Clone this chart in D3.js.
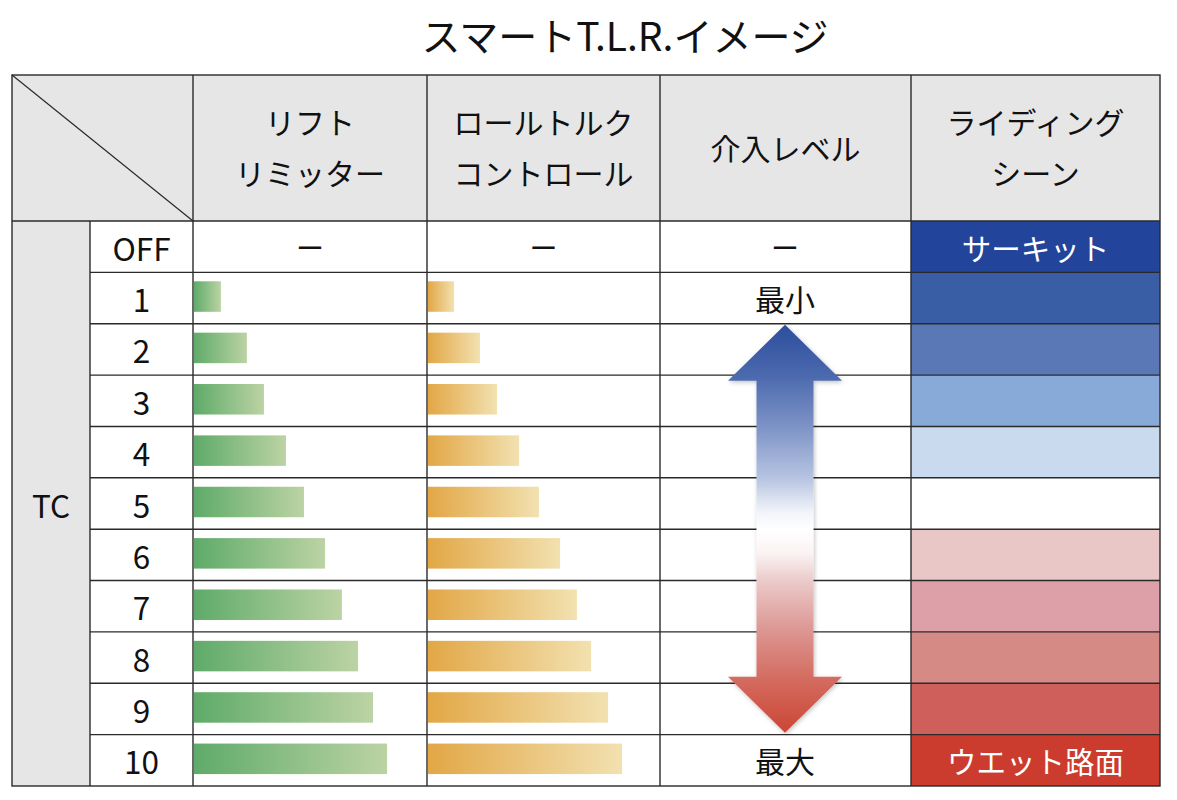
<!DOCTYPE html>
<html><head><meta charset="utf-8">
<script src="https://cdn.jsdelivr.net/npm/d3@7/dist/d3.min.js"></script>
<style>
html,body{margin:0;padding:0;background:#fff;}
svg{display:block;font-family:"Noto Sans CJK JP","Noto Sans",sans-serif;}
</style></head>
<body>
<svg id="chart" width="1177" height="800"></svg>
<script>
// ---- data ----
const title = "スマートT.L.R.イメージ";
const headers = [["リフト","リミッター"],["ロールトルク","コントロール"],["介入レベル"],["ライディング","シーン"]];
const groupLabel = "TC";
const levels = ["OFF","1","2","3","4","5","6","7","8","9","10"];
// bar lengths as % of the cell width (null = not available, shown as "ー")
const liftLimiter = [null, 11.5, 22.6, 29.9, 39.3, 47.0, 56.0, 63.2, 70.1, 76.5, 82.5];
const rollTorque  = [null, 11.2, 22.3, 29.6, 39.1, 47.6, 56.7, 63.9, 70.0, 77.3, 83.3];
const interventionLabels = ["ー","最小","","","","","","","","","最大"];
const sceneColors = ["#22449a","#3a5ea6","#5a78b6","#87aad8","#c9daee","#ffffff","#e9c7c7","#dda0a9","#d68a86","#cf5f5a","#cb3c2f"];
const sceneLabels = ["サーキット","","","","","","","","","","ウエット路面"];

(function(){
// ---- layout ----
const svg = d3.select("#chart");
const colEdges = [12, 90, 193, 427, 660, 911, 1160];
const headTop = 75, bodyTop = 221, bodyBottom = 786;
const y = d3.scaleBand().domain(levels).range([bodyTop, bodyBottom]).padding(0);
const rh = y.bandwidth();
const lineCol = "#2a2a2a";

const defs = svg.append("defs");
function hGrad(id, c1, c2){
  const g = defs.append("linearGradient").attr("id", id).attr("x1","0").attr("x2","1").attr("y1","0").attr("y2","0");
  g.append("stop").attr("offset","0").attr("stop-color", c1);
  g.append("stop").attr("offset","1").attr("stop-color", c2);
}
hGrad("gGreen", "#5fab69", "#bcd3a4");
hGrad("gOrange", "#e2a746", "#f2e1b0");

// title
svg.append("text").attr("x", 625).attr("y", 34).attr("text-anchor","middle")
  .attr("dominant-baseline","central").attr("font-size", 39).attr("fill","#111").text(title);

// header background
svg.append("rect").attr("x", colEdges[0]).attr("y", headTop)
  .attr("width", colEdges[6]-colEdges[0]).attr("height", bodyTop-headTop).attr("fill","#e6e6e6");
// TC column background
svg.append("rect").attr("x", colEdges[0]).attr("y", bodyTop)
  .attr("width", colEdges[1]-colEdges[0]).attr("height", bodyBottom-bodyTop).attr("fill","#e6e6e6");

// scene cells
svg.append("g").selectAll("rect").data(levels).join("rect")
  .attr("x", colEdges[5]).attr("y", d => y(d))
  .attr("width", colEdges[6]-colEdges[5]).attr("height", rh)
  .attr("fill", (d,i) => sceneColors[i]);
svg.append("g").selectAll("text").data(levels).join("text")
  .attr("x", (colEdges[5]+colEdges[6])/2).attr("y", d => y(d)+rh/2)
  .attr("text-anchor","middle").attr("dominant-baseline","central")
  .attr("font-size", 29.5).attr("fill","#fff")
  .text((d,i) => sceneLabels[i]);

// bars
const barH = 30.5;
function bars(values, c0, c1, grad){
  const x = d3.scaleLinear().domain([0,100]).range([0, c1-c0]);
  svg.append("g").selectAll("rect").data(levels.filter((d,i)=>values[i]!=null)).join("rect")
    .attr("x", c0+1).attr("y", d => y(d)+rh/2-barH/2-1.5)
    .attr("width", d => x(values[levels.indexOf(d)]))
    .attr("height", barH).attr("fill", `url(#${grad})`);
  svg.append("g").selectAll("text").data(levels.filter((d,i)=>values[i]==null)).join("text")
    .attr("x", (c0+c1)/2).attr("y", d => y(d)+rh/2)
    .attr("text-anchor","middle").attr("dominant-baseline","central")
    .attr("font-size", 28).attr("fill","#111").text("ー");
}
bars(liftLimiter, colEdges[2], colEdges[3], "gGreen");
bars(rollTorque, colEdges[3], colEdges[4], "gOrange");

// intervention arrow
const ag = defs.append("linearGradient").attr("id","gArrow").attr("x1","0").attr("x2","0").attr("y1","0").attr("y2","1");
[[0,"#2c4d9d"],[0.12,"#4a68ad"],[0.25,"#7d93c7"],[0.38,"#b9c6e2"],[0.46,"#f2f4fa"],[0.5,"#ffffff"],[0.56,"#fbf3f3"],[0.63,"#ebc9c9"],[0.74,"#dd9a96"],[0.86,"#d46e63"],[1,"#cc4634"]]
  .forEach(s => ag.append("stop").attr("offset", s[0]).attr("stop-color", s[1]));
const shadow = defs.append("filter").attr("id","shadow").attr("x","-20%").attr("y","-10%").attr("width","140%").attr("height","120%");
shadow.append("feDropShadow").attr("dx",1).attr("dy",1.5).attr("stdDeviation",2).attr("flood-color","#000").attr("flood-opacity",0.25);

const cx = (colEdges[4]+colEdges[5])/2 - 0.5;
const aTop = y("2") + 1, aBot = y("10") - 2;
const headH = 56, headW = 57, shaftW = 28.5;
const p = d3.path();
p.moveTo(cx, aTop);
p.lineTo(cx+headW, aTop+headH);
p.lineTo(cx+shaftW, aTop+headH);
p.lineTo(cx+shaftW, aBot-headH);
p.lineTo(cx+headW, aBot-headH);
p.lineTo(cx, aBot);
p.lineTo(cx-headW, aBot-headH);
p.lineTo(cx-shaftW, aBot-headH);
p.lineTo(cx-shaftW, aTop+headH);
p.lineTo(cx-headW, aTop+headH);
p.closePath();

// grid lines (drawn before arrow so the arrow sits on top)
const grid = svg.append("g").attr("stroke", lineCol).attr("stroke-width", 1.4).attr("fill","none");
grid.append("rect").attr("x", colEdges[0]).attr("y", headTop)
  .attr("width", colEdges[6]-colEdges[0]).attr("height", bodyBottom-headTop);
[2,3,4,5].forEach(i => grid.append("line").attr("x1", colEdges[i]).attr("x2", colEdges[i]).attr("y1", headTop).attr("y2", bodyBottom));
grid.append("line").attr("x1", colEdges[1]).attr("x2", colEdges[1]).attr("y1", bodyTop).attr("y2", bodyBottom);
grid.append("line").attr("x1", colEdges[0]).attr("x2", colEdges[6]).attr("y1", bodyTop).attr("y2", bodyTop);
levels.slice(1).forEach(l => grid.append("line").attr("x1", colEdges[1]).attr("x2", colEdges[6]).attr("y1", y(l)).attr("y2", y(l)));
grid.append("line").attr("x1", colEdges[0]).attr("y1", headTop).attr("x2", colEdges[2]).attr("y2", bodyTop).attr("stroke-width",1.2);

svg.append("path").attr("d", p.toString()).attr("fill","url(#gArrow)").attr("filter","url(#shadow)");

// intervention labels
svg.append("g").selectAll("text").data(levels).join("text")
  .attr("x", cx).attr("y", d => y(d)+rh/2)
  .attr("text-anchor","middle").attr("dominant-baseline","central")
  .attr("font-size", (d,i) => i===0 ? 28 : 30).attr("fill","#111")
  .text((d,i) => interventionLabels[i]);

// header texts
const hg = svg.append("g");
headers.forEach((lines, i) => {
  const c = (colEdges[i+2]+colEdges[i+3])/2;
  const mid = (headTop+bodyTop)/2;
  lines.forEach((t, j) => {
    const off = lines.length === 1 ? 0 : (j === 0 ? -26 : 25);
    hg.append("text").attr("x", c).attr("y", mid+off-1)
      .attr("text-anchor","middle").attr("dominant-baseline","central")
      .attr("font-size", 30).attr("fill","#111").text(t);
  });
});

// row labels
svg.append("g").selectAll("text").data(levels).join("text")
  .attr("x", (colEdges[1]+colEdges[2])/2).attr("y", d => y(d)+rh/2)
  .attr("text-anchor","middle").attr("dominant-baseline","central")
  .attr("font-size", 31.5).attr("fill","#111").text(d => d);
svg.append("text").attr("x", (colEdges[0]+colEdges[1])/2).attr("y", (bodyTop+bodyBottom)/2)
  .attr("text-anchor","middle").attr("dominant-baseline","central")
  .attr("font-size", 31.5).attr("fill","#111").text(groupLabel);
})();
</script>
</body></html>
